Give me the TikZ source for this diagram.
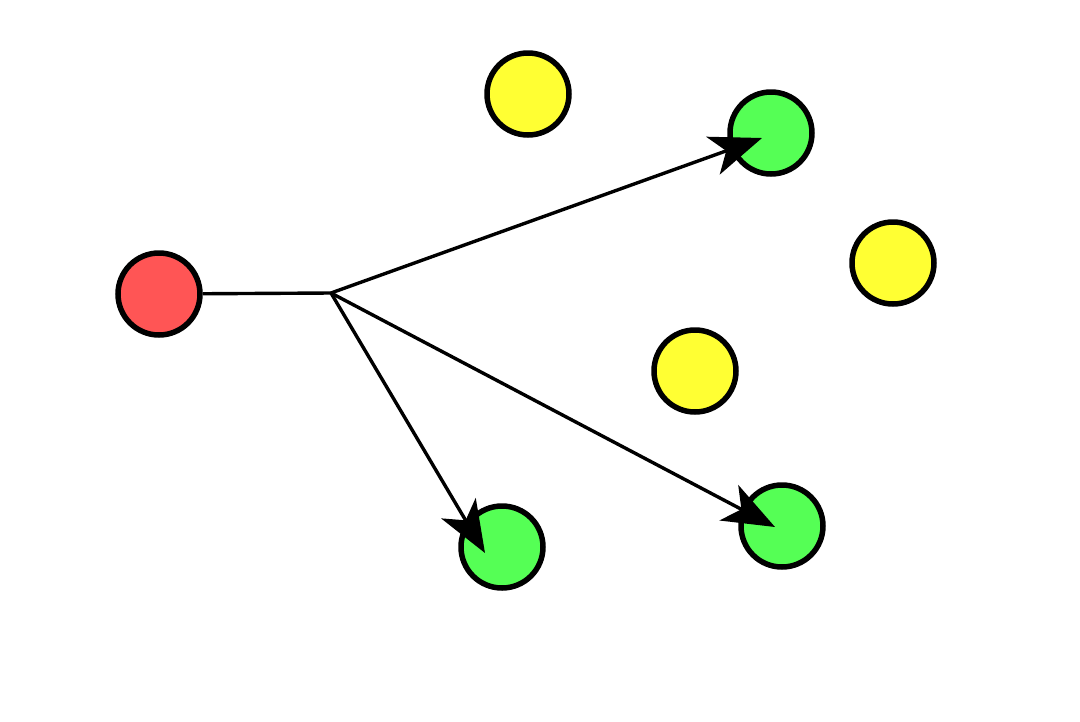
\documentclass[tikz,border=0pt]{standalone}
\usetikzlibrary{arrows.meta}
\definecolor{cred}{HTML}{FF5555}
\definecolor{cyel}{HTML}{FFFF33}
\definecolor{cgrn}{HTML}{55FF55}
\begin{document}
\begin{tikzpicture}[x=1pt,y=-1pt,
  dot/.style={circle,draw=black,line width=5.5pt,minimum size=82pt,inner sep=0pt},
  link/.style={line width=3.4pt,draw=black},
  arr/.style={link,-{Stealth[length=52pt,width=40pt,inset=14pt]}}]
\useasboundingbox (0,0) rectangle (1080,721);
\node[dot,fill=cred] (r) at (159,294) {};
\node[dot,fill=cyel] (y1) at (528,94) {};
\node[dot,fill=cgrn] (g1) at (771,133) {};
\node[dot,fill=cyel] (y2) at (893,263) {};
\node[dot,fill=cyel] (y3) at (695,371) {};
\node[dot,fill=cgrn] (g2) at (502,547) {};
\node[dot,fill=cgrn] (g3) at (782,526) {};
\coordinate (br) at (331,293);
\coordinate (t1) at (762,138);
\coordinate (t2) at (485,553);
\coordinate (t3) at (775,527);
\draw[link] (r) -- (br);
\draw[arr] (br) -- (t1);
\draw[arr] (br) -- (t2);
\draw[arr] (br) -- (t3);
\end{tikzpicture}
\end{document}
